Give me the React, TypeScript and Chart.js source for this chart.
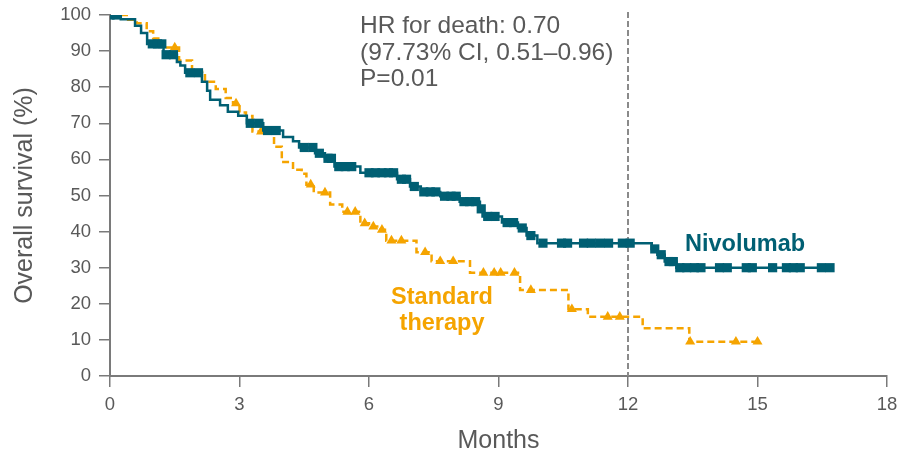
import React, { useEffect, useRef } from 'react';
import { Chart, registerables } from 'chart.js';

Chart.register(...registerables);

// Kaplan–Meier step points: time (months) of each drop and survival (%) after it
const nivoTimes = [0, 0.25, 0.58, 0.72, 0.86, 1.24, 1.55, 1.63, 1.74, 2.13, 2.25, 2.32, 2.55, 2.73, 2.97, 3.17, 3.55, 4.01, 4.24, 4.38, 4.75, 4.98, 5.2, 5.8, 6.65, 6.95, 7.2, 7.65, 8.1, 8.57, 8.63, 9.08, 9.45, 9.65, 9.9, 12.55, 12.68, 12.85, 13.12, 16.7];
const nivoSurv = [100, 98.8, 97, 95, 92, 89, 87, 86, 84, 81.5, 79, 76.5, 75, 73.2, 72.1, 70, 68, 66.2, 65, 63.3, 61.7, 60.3, 58, 56.3, 54.5, 52.5, 51, 49.8, 48.3, 46.3, 44.2, 42.5, 41, 38.9, 36.8, 35.2, 33.6, 31.7, 30, 30];

// Censored observations (squares)
const nivoCensorTimes = [0, 0.15, 0.98, 1.1, 1.2, 1.3, 1.47, 1.85, 2.05, 3.25, 3.45, 3.65, 3.85, 4.5, 4.7, 4.85, 5.05, 5.13, 5.3, 5.45, 5.6, 6.0, 6.15, 6.3, 6.45, 6.57, 6.75, 6.87, 7.05, 7.27, 7.42, 7.55, 7.75, 7.9, 8.02, 8.2, 8.33, 8.47, 8.6, 8.75, 8.92, 9.2, 9.35, 9.55, 9.75, 10.03, 10.46, 10.6, 10.97, 11.15, 11.35, 11.55, 11.87, 12.05, 12.62, 12.77, 12.95, 13.05, 13.2, 13.36, 13.54, 13.69, 14.12, 14.3, 14.74, 14.88, 15.35, 15.67, 15.83, 15.99, 16.48, 16.68];
const nivoCensorSurv = [100, 100, 92, 92, 92, 89, 89, 84, 84, 70, 70, 68, 68, 63.3, 63.3, 61.7, 60.3, 60.3, 58, 58, 58, 56.3, 56.3, 56.3, 56.3, 56.3, 54.5, 54.5, 52.5, 51, 51, 51, 49.8, 49.8, 49.8, 48.3, 48.3, 48.3, 46.3, 44.2, 44.2, 42.5, 42.5, 41, 38.9, 36.8, 36.8, 36.8, 36.8, 36.8, 36.8, 36.8, 36.8, 36.8, 35.2, 33.6, 31.7, 31.7, 30, 30, 30, 30, 30, 30, 30, 30, 30, 30, 30, 30, 30, 30];

const stdTimes = [0, 0.42, 0.62, 0.85, 1.0, 1.2, 1.6, 1.9, 2.2, 2.45, 2.68, 2.85, 3.0, 3.15, 3.3, 3.8, 3.98, 4.24, 4.44, 4.55, 4.72, 5.1, 5.38, 5.8, 6.0, 6.22, 6.4, 7.1, 7.45, 8.34, 9.5, 10.62, 11.07, 12.34, 13.42, 15.0];
const stdSurv = [100, 98.7, 97.7, 95.5, 93.5, 91, 87.4, 84.3, 81.5, 79.5, 77, 75.5, 73, 72, 67.7, 63.5, 59.3, 57.1, 56, 53, 50.8, 47.5, 45.5, 42.3, 41.4, 40.5, 37.5, 34.3, 31.8, 28.6, 23.8, 18.5, 16.4, 13.2, 9.5, 9.5];

// Censored observations (triangles)
const stdCensorTimes = [1.5, 2.92, 3.5, 4.65, 4.98, 5.5, 5.68, 5.9, 6.1, 6.3, 6.52, 6.75, 7.3, 7.65, 7.95, 8.65, 8.9, 9.05, 9.37, 9.75, 10.7, 11.53, 11.81, 13.44, 14.5, 15.0];
const stdCensorSurv = [91, 75.5, 67.7, 53, 50.8, 45.5, 45.5, 42.3, 41.4, 40.5, 37.5, 37.5, 34.3, 31.8, 31.8, 28.6, 28.6, 28.6, 28.6, 23.8, 18.5, 16.4, 16.4, 9.5, 9.5, 9.5];

const xTicks = [0, 3, 6, 9, 12, 15, 18];
const landmarkMonth = 12;
const statLines = ['HR for death: 0.70', '(97.73% CI, 0.51\u20130.96)', 'P=0.01'];
const nivoLabel = 'Nivolumab';
const stdLabel = ['Standard', 'therapy'];

const TEAL = '#005F73';
const ORANGE = '#F5A400';
const AXIS = '#7a7a7a';
const TEXT = '#595959';
const FONT = '"Liberation Sans", Arial, sans-serif';

const toPoints = (xs: number[], ys: number[]) => xs.map((x, i) => ({ x, y: ys[i] }));

const annotations = {
  id: 'kmAnnotations',
  beforeDatasetsDraw(chart: any) {
    const { ctx, scales, chartArea } = chart;
    const x = scales.x.getPixelForValue(landmarkMonth);
    ctx.save();
    ctx.strokeStyle = '#8a8a8a';
    ctx.lineWidth = 2;
    ctx.setLineDash([6, 3]);
    ctx.beginPath();
    ctx.moveTo(x, chartArea.top - 3);
    ctx.lineTo(x, chartArea.bottom);
    ctx.stroke();
    ctx.restore();
  },
  afterDraw(chart: any) {
    const { ctx } = chart;
    ctx.save();
    ctx.textBaseline = 'alphabetic';
    ctx.textAlign = 'left';
    ctx.fillStyle = TEXT;
    ctx.font = `24.5px ${FONT}`;
    statLines.forEach((t, i) => ctx.fillText(t, 360, 33 + i * 26.7));

    ctx.fillStyle = TEAL;
    ctx.font = `bold 23.5px ${FONT}`;
    ctx.fillText(nivoLabel, 685, 251);

    ctx.fillStyle = ORANGE;
    ctx.textAlign = 'center';
    stdLabel.forEach((t, i) => ctx.fillText(t, 442, 304 + i * 26));
    ctx.restore();
  },
};

// Keep the plot area fixed: no extra room reserved for overhanging tick labels
const noEdgePadding = (scale: any) => {
  scale.paddingTop = 0;
  scale.paddingBottom = 0;
  scale.paddingLeft = 0;
  scale.paddingRight = 0;
};

export default function App() {
  const ref = useRef<HTMLCanvasElement>(null);

  useEffect(() => {
    if (!ref.current) return;
    const chart = new Chart(ref.current, {
      type: 'scatter',
      data: {
        datasets: [
          {
            label: 'Nivolumab censored',
            data: toPoints(nivoCensorTimes, nivoCensorSurv),
            showLine: false,
            pointStyle: 'rect',
            pointRadius: 6.5,
            pointBorderWidth: 0,
            backgroundColor: TEAL,
            borderColor: TEAL,
          },
          {
            label: 'Nivolumab',
            data: toPoints(nivoTimes, nivoSurv),
            showLine: true,
            stepped: true,
            borderColor: TEAL,
            borderWidth: 2.5,
            pointRadius: 0,
            fill: false,
          },
          {
            label: 'Standard therapy censored',
            data: toPoints(stdCensorTimes, stdCensorSurv),
            showLine: false,
            pointStyle: 'triangle',
            pointRadius: 5.8,
            pointBorderWidth: 0,
            backgroundColor: ORANGE,
            borderColor: ORANGE,
          },
          {
            label: 'Standard therapy',
            data: toPoints(stdTimes, stdSurv),
            showLine: true,
            stepped: true,
            borderColor: ORANGE,
            borderWidth: 2.5,
            borderDash: [7, 4],
            pointRadius: 0,
            fill: false,
          },
        ],
      },
      options: {
        responsive: false,
        animation: false,
        layout: { padding: { left: 0, top: 15, right: 14, bottom: 0 } },
        plugins: { legend: { display: false }, tooltip: { enabled: false } },
        scales: {
          x: {
            type: 'linear',
            min: 0,
            max: 18,
            afterBuildTicks: (scale: any) => {
              scale.ticks = xTicks.map((v) => ({ value: v }));
            },
            afterFit: (scale: any) => {
              scale.height = 78;
              noEdgePadding(scale);
            },
            ticks: { color: TEXT, font: { family: FONT, size: 18.5 }, padding: 7 },
            grid: { display: true, drawOnChartArea: false, drawTicks: true, tickLength: 11, color: AXIS, lineWidth: 1.5 },
            border: { display: true, color: AXIS, width: 2 },
            title: {
              display: true,
              text: 'Months',
              color: TEXT,
              font: { family: FONT, size: 25, lineHeight: 1 },
              padding: { top: 0, bottom: 0 },
            },
          },
          y: {
            type: 'linear',
            min: 0,
            max: 100,
            ticks: { stepSize: 10, color: TEXT, font: { family: FONT, size: 18.5 }, padding: 8 },
            afterFit: (scale: any) => {
              scale.width = 110;
              noEdgePadding(scale);
            },
            grid: { display: true, drawOnChartArea: false, drawTicks: true, tickLength: 11, color: AXIS, lineWidth: 1.5 },
            border: { display: true, color: AXIS, width: 2 },
            title: {
              display: true,
              text: 'Overall survival (%)',
              color: TEXT,
              font: { family: FONT, size: 25, lineHeight: 1 },
              padding: { top: 12.5, bottom: 0 },
            },
          },
        },
      },
      plugins: [annotations],
    });
    return () => chart.destroy();
  }, []);

  return (
    <div style={{ position: 'absolute', left: 0, top: 0, width: 901, height: 454, background: '#fff' }}>
      <canvas ref={ref} width={901} height={454} style={{ display: 'block' }} />
    </div>
  );
}
